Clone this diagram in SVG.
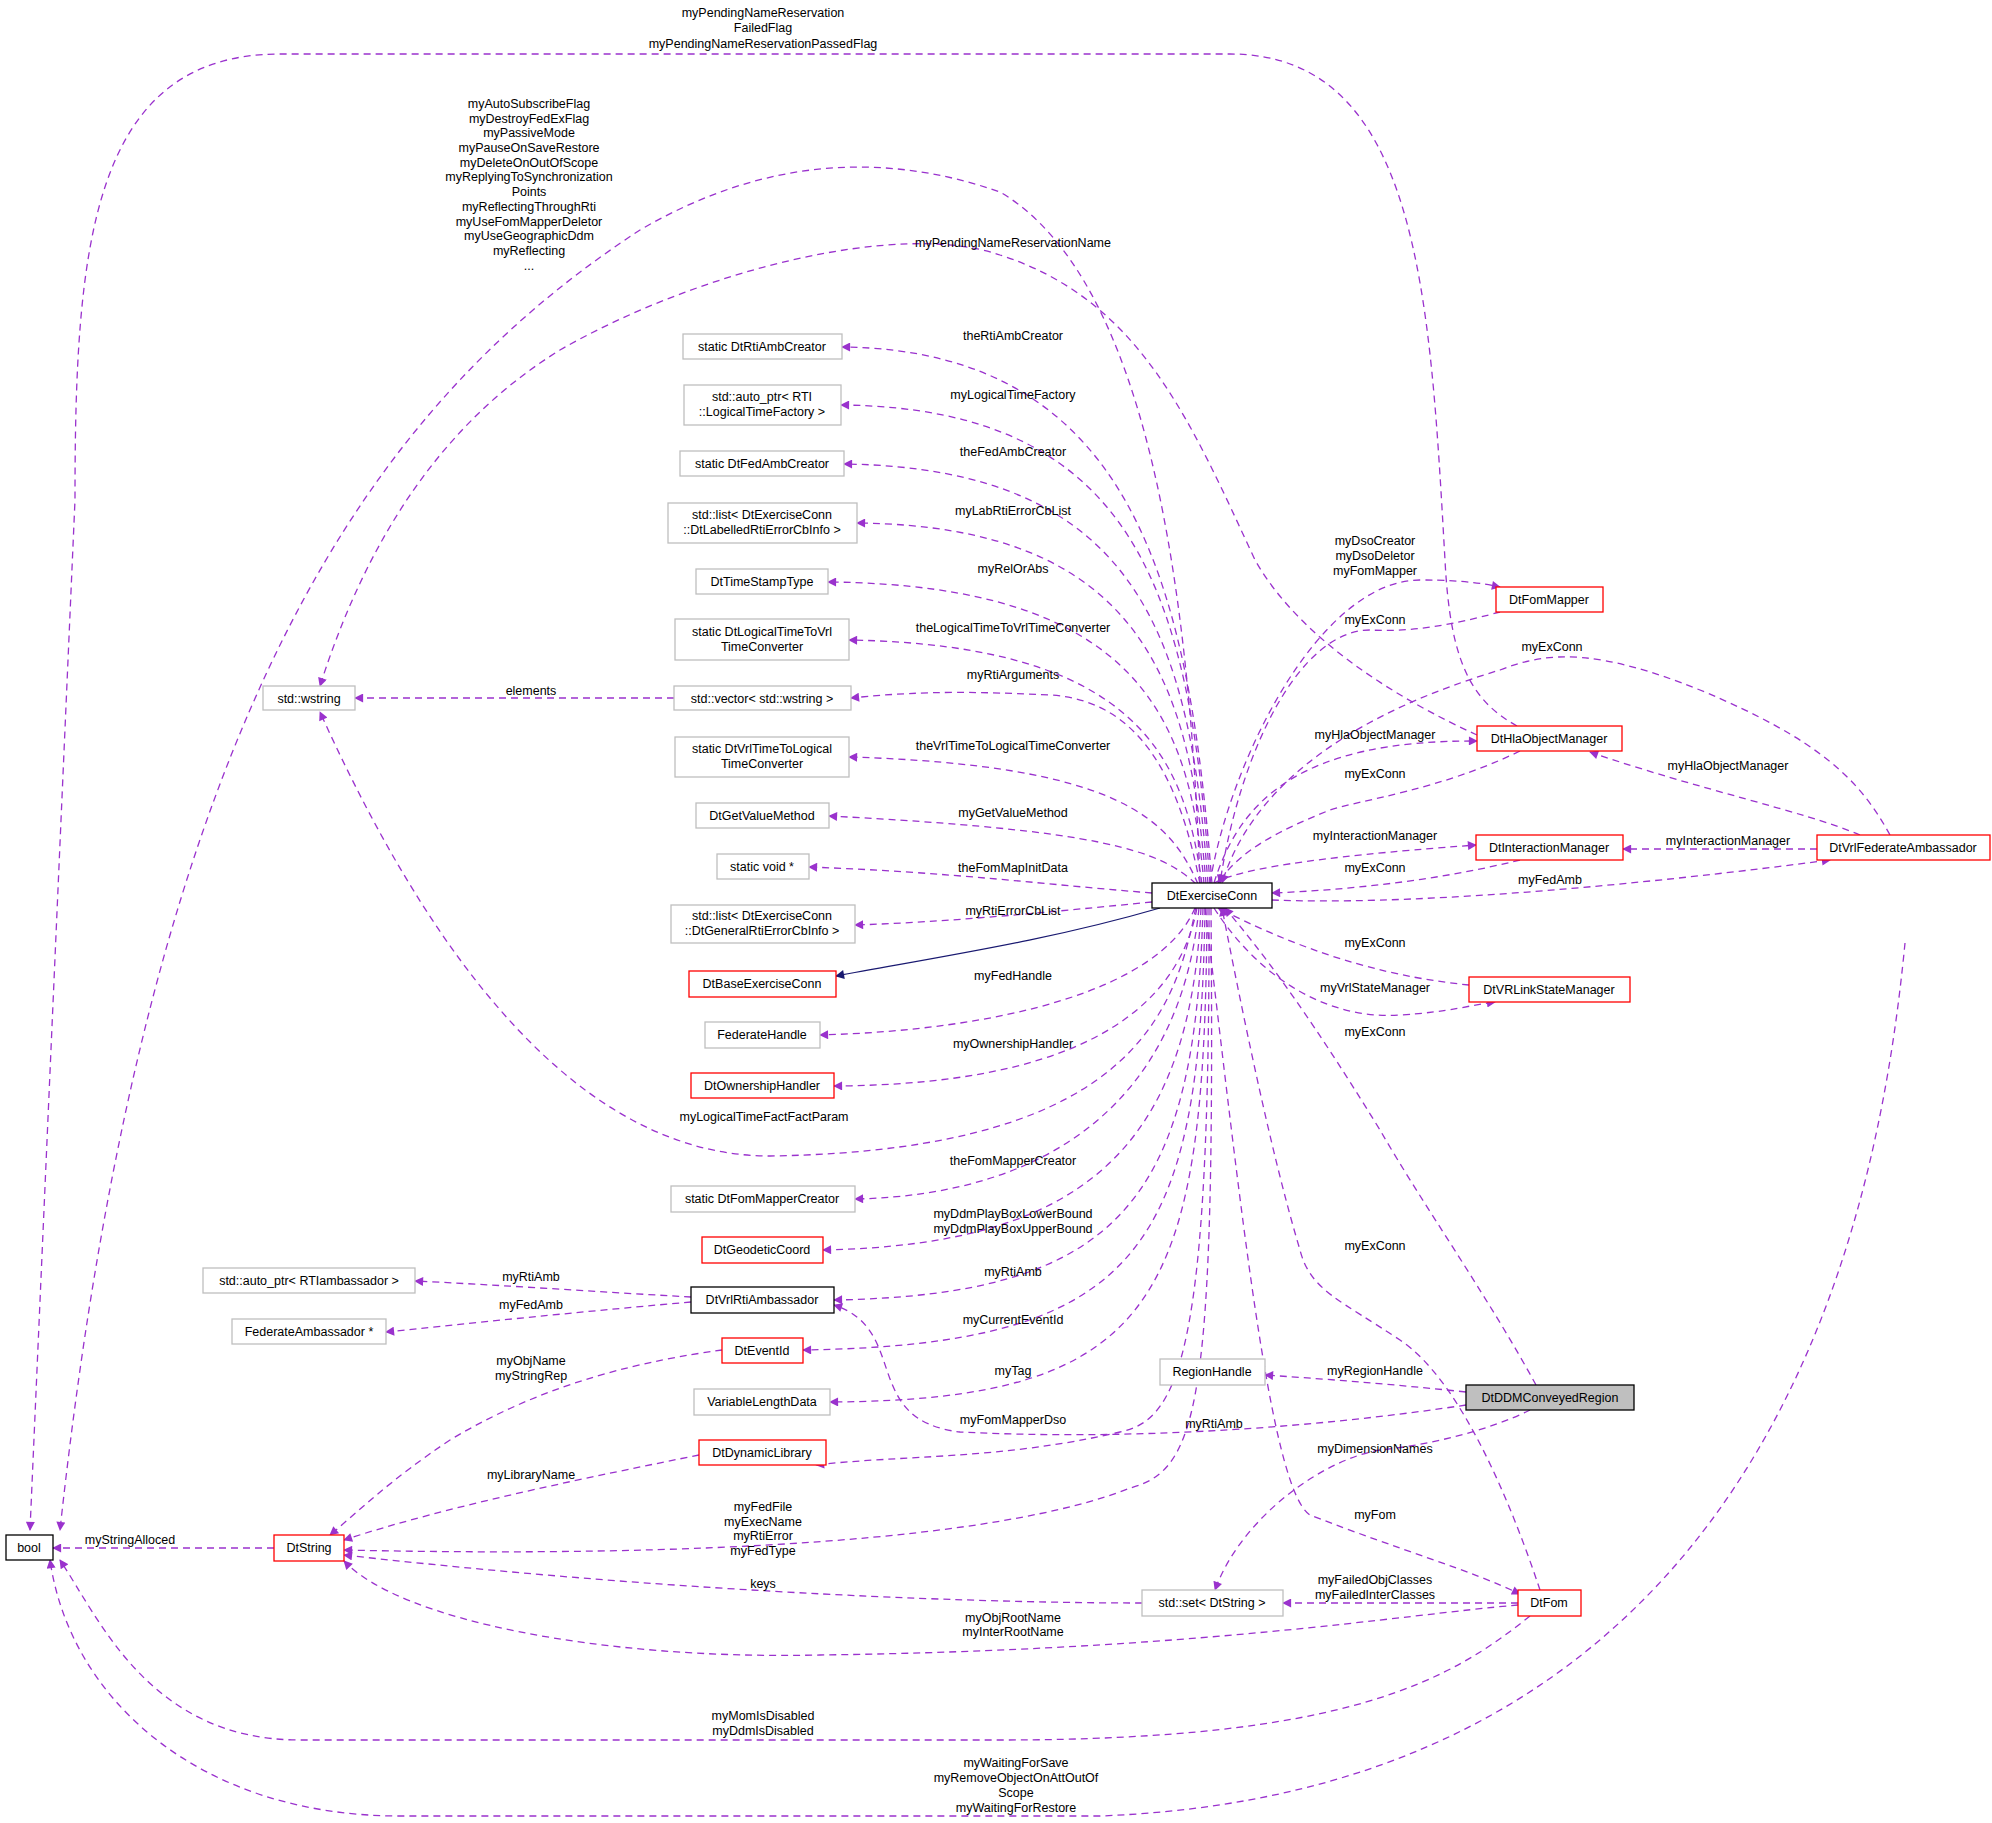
<svg xmlns="http://www.w3.org/2000/svg" width="1992" height="1823" viewBox="0 0 1992 1823">
<style>
text{font-family:"Liberation Sans",Arial,sans-serif;font-size:12.5px;fill:#000}
.n text{text-anchor:middle}
.lb{text-anchor:middle}
.g{fill:#fff;stroke:#bfbfbf;stroke-width:1.3}
.r{fill:#fff;stroke:#ff0000;stroke-width:1.3}
.k{fill:#fff;stroke:#000;stroke-width:1.3}
.e path{fill:none;stroke:#9a32cd;stroke-width:1.3;stroke-dasharray:7,5;marker-end:url(#a)}
.e path.s{stroke:#191970;stroke-dasharray:none;marker-end:url(#b)}
</style>
<defs>
<marker id="a" viewBox="0 0 10 10" refX="9" refY="5" markerWidth="11" markerHeight="9" markerUnits="userSpaceOnUse" orient="auto"><path d="M0,0L10,5L0,10z" fill="#9a32cd"/></marker>
<marker id="b" viewBox="0 0 10 10" refX="9" refY="5" markerWidth="11" markerHeight="9" markerUnits="userSpaceOnUse" orient="auto"><path d="M0,0L10,5L0,10z" fill="#191970"/></marker>
</defs>
<rect width="1992" height="1823" fill="#fff"/>
<g class="e" id="connectors">
<path d="M1517,726 C1470,700 1450,660 1445,560 C1430,300 1420,54 1230,54 L280,54 C90,54 75,250 75,500 L30,1530"/>
<path d="M1200,883 C1190,600 1150,280 1000,192 C880,150 760,160 640,230 C380,400 150,700 60,1530"/>
<path d="M1477,735 C1400,700 1300,640 1255,560 C1190,420 1140,300 1000,255 C900,220 700,270 560,350 C430,430 360,560 320,686"/>
<path d="M1200,884 C1180,1000 1150,1150 770,1156 C600,1156 450,1000 320,712"/>
<path d="M674,698 L355,698"/>
<path d="M1160,908 C1050,940 950,955 836,976" class="s"/>
<path d="M1212,884 C1190,600 1140,350 842,347"/>
<path d="M1210,884 C1190,600 1140,408 841,405"/>
<path d="M1208,884 C1190,640 1140,468 844,464"/>
<path d="M1206,884 C1190,680 1140,526 857,523"/>
<path d="M1204,884 C1190,720 1140,585 828,582"/>
<path d="M1202,884 C1185,760 1140,645 849,640"/>
<path d="M1200,884 C1180,780 1140,700 1050,695 C950,690 900,693 851,698"/>
<path d="M1198,884 C1170,820 1120,765 849,757"/>
<path d="M1196,884 C1160,850 1100,830 829,816"/>
<path d="M1152,893 C1050,885 950,872 809,867"/>
<path d="M1152,902 C1050,912 950,922 855,925"/>
<path d="M1195,908 C1160,990 1000,1030 820,1035"/>
<path d="M1197,908 C1170,1050 1000,1085 834,1086"/>
<path d="M1199,908 C1180,1100 1050,1195 855,1199"/>
<path d="M1201,908 C1190,1150 1080,1245 823,1250"/>
<path d="M1203,908 C1195,1200 1120,1295 834,1300"/>
<path d="M1205,908 C1200,1250 1140,1345 803,1350"/>
<path d="M1207,908 C1205,1300 1160,1400 830,1402"/>
<path d="M1209,908 C1210,1350 1180,1420 1120,1432 C1000,1460 900,1455 816,1465"/>
<path d="M1211,908 C1215,1400 1200,1470 1130,1488 C1000,1540 700,1558 344,1550"/>
<path d="M691,1297 C600,1292 500,1285 415,1281"/>
<path d="M691,1302 C600,1310 500,1320 386,1332"/>
<path d="M722,1350 C650,1360 550,1380 450,1440 C390,1480 360,1510 330,1535"/>
<path d="M699,1455 C600,1475 450,1505 344,1540"/>
<path d="M1142,1603 C1000,1603 700,1595 344,1555"/>
<path d="M1518,1605 C1400,1615 1200,1650 820,1655 C600,1660 400,1620 344,1561"/>
<path d="M274,1548 L53,1548"/>
<path d="M1530,1616 C1450,1680 1350,1740 1000,1740 L300,1740 C150,1740 100,1620 60,1560"/>
<path d="M1905,943 C1880,1200 1780,1790 1100,1816 L400,1816 C200,1816 70,1700 50,1560"/>
<path d="M1518,1603 L1283,1603"/>
<path d="M1205,908 C1240,1200 1270,1490 1310,1515 C1400,1550 1470,1570 1520,1594"/>
<path d="M1540,1590 C1510,1500 1460,1380 1400,1340 C1340,1300 1310,1290 1300,1250 C1270,1150 1240,1000 1222,908"/>
<path d="M1536,1385 C1490,1300 1420,1200 1380,1130 C1300,1000 1260,950 1225,908"/>
<path d="M1466,1392 C1400,1385 1340,1380 1265,1375"/>
<path d="M1466,1405 C1300,1430 1120,1440 960,1432 C860,1420 910,1330 834,1305"/>
<path d="M1530,1410 C1490,1430 1430,1445 1380,1450 C1320,1460 1240,1520 1215,1590"/>
<path d="M1210,883 C1230,760 1320,580 1420,580 C1470,580 1490,585 1500,587"/>
<path d="M1500,612 C1470,620 1420,633 1370,630 C1300,630 1240,750 1220,883"/>
<path d="M1214,883 C1240,800 1300,740 1477,741"/>
<path d="M1520,751 C1440,790 1360,800 1330,810 C1280,830 1240,850 1218,883"/>
<path d="M1214,883 C1240,870 1300,858 1476,845"/>
<path d="M1520,860 C1440,880 1350,890 1272,893"/>
<path d="M1272,900 C1400,905 1600,890 1830,860"/>
<path d="M1817,849 L1623,849"/>
<path d="M1860,835 C1800,810 1700,790 1590,752"/>
<path d="M1890,835 C1860,780 1820,740 1700,690 C1600,650 1550,650 1500,670 C1400,700 1260,760 1222,883"/>
<path d="M1469,985 C1400,978 1320,960 1218,908"/>
<path d="M1214,908 C1260,980 1330,1020 1400,1015 C1450,1012 1470,1005 1495,1002"/>
</g>
<g class="n">
<g id="n1"><rect class="g" x="683" y="334" width="159" height="25"/><text x="762" y="351">static DtRtiAmbCreator</text></g>
<g id="n2"><rect class="g" x="684" y="385" width="157" height="40"/><text x="762" y="401">std::auto_ptr&lt; RTI</text><text x="762" y="416">::LogicalTimeFactory &gt;</text></g>
<g id="n3"><rect class="g" x="680" y="451" width="164" height="25"/><text x="762" y="468">static DtFedAmbCreator</text></g>
<g id="n4"><rect class="g" x="668" y="503" width="189" height="40"/><text x="762" y="519">std::list&lt; DtExerciseConn</text><text x="762" y="534">::DtLabelledRtiErrorCbInfo &gt;</text></g>
<g id="n5"><rect class="g" x="696" y="569" width="132" height="25"/><text x="762" y="586">DtTimeStampType</text></g>
<g id="n6"><rect class="g" x="675" y="619" width="174" height="41"/><text x="762" y="636">static DtLogicalTimeToVrl</text><text x="762" y="651">TimeConverter</text></g>
<g id="n7"><rect class="g" x="263" y="686" width="92" height="24"/><text x="309" y="703">std::wstring</text></g>
<g id="n8"><rect class="g" x="674" y="686" width="177" height="24"/><text x="762" y="703">std::vector&lt; std::wstring &gt;</text></g>
<g id="n9"><rect class="g" x="675" y="737" width="174" height="40"/><text x="762" y="753">static DtVrlTimeToLogical</text><text x="762" y="768">TimeConverter</text></g>
<g id="n10"><rect class="g" x="696" y="803" width="133" height="25"/><text x="762" y="820">DtGetValueMethod</text></g>
<g id="n11"><rect class="g" x="717" y="854" width="92" height="25"/><text x="762" y="871">static void *</text></g>
<g id="n12"><rect class="g" x="671" y="905" width="184" height="38"/><text x="762" y="920">std::list&lt; DtExerciseConn</text><text x="762" y="935">::DtGeneralRtiErrorCbInfo &gt;</text></g>
<g id="n13"><rect class="r" x="689" y="971" width="147" height="26"/><text x="762" y="988">DtBaseExerciseConn</text></g>
<g id="n14"><rect class="g" x="705" y="1022" width="115" height="26"/><text x="762" y="1039">FederateHandle</text></g>
<g id="n15"><rect class="r" x="691" y="1073" width="143" height="25"/><text x="762" y="1090">DtOwnershipHandler</text></g>
<g id="n16"><rect class="g" x="671" y="1186" width="184" height="26"/><text x="762" y="1203">static DtFomMapperCreator</text></g>
<g id="n17"><rect class="r" x="702" y="1237" width="121" height="26"/><text x="762" y="1254">DtGeodeticCoord</text></g>
<g id="n18"><rect class="g" x="203" y="1268" width="212" height="25"/><text x="309" y="1285">std::auto_ptr&lt; RTIambassador &gt;</text></g>
<g id="n19"><rect class="k" x="691" y="1287" width="143" height="26"/><text x="762" y="1304">DtVrlRtiAmbassador</text></g>
<g id="n20"><rect class="g" x="232" y="1319" width="154" height="25"/><text x="309" y="1336">FederateAmbassador *</text></g>
<g id="n21"><rect class="r" x="722" y="1338" width="81" height="25"/><text x="762" y="1355">DtEventId</text></g>
<g id="n22"><rect class="g" x="694" y="1389" width="136" height="26"/><text x="762" y="1406">VariableLengthData</text></g>
<g id="n23"><rect class="r" x="699" y="1440" width="127" height="25"/><text x="762" y="1457">DtDynamicLibrary</text></g>
<g id="n24"><rect class="k" x="6" y="1535" width="47" height="25"/><text x="29" y="1552">bool</text></g>
<g id="n25"><rect class="r" x="274" y="1535" width="70" height="26"/><text x="309" y="1552">DtString</text></g>
<g id="n26"><rect class="k" x="1152" y="883" width="120" height="25"/><text x="1212" y="900">DtExerciseConn</text></g>
<g id="n27"><rect class="r" x="1496" y="587" width="107" height="25"/><text x="1549" y="604">DtFomMapper</text></g>
<g id="n28"><rect class="r" x="1477" y="726" width="145" height="25"/><text x="1549" y="743">DtHlaObjectManager</text></g>
<g id="n29"><rect class="r" x="1476" y="835" width="147" height="25"/><text x="1549" y="852">DtInteractionManager</text></g>
<g id="n30"><rect class="r" x="1817" y="835" width="173" height="25"/><text x="1903" y="852">DtVrlFederateAmbassador</text></g>
<g id="n31"><rect class="r" x="1469" y="977" width="161" height="25"/><text x="1549" y="994">DtVRLinkStateManager</text></g>
<g id="n32"><rect class="g" x="1160" y="1359" width="105" height="26"/><text x="1212" y="1376">RegionHandle</text></g>
<g id="n33"><rect x="1466" y="1385" width="168" height="25" fill="#bfbfbf" stroke="#000" stroke-width="1.3"/><text x="1550" y="1402">DtDDMConveyedRegion</text></g>
<g id="n34"><rect class="g" x="1142" y="1590" width="141" height="26"/><text x="1212" y="1607">std::set&lt; DtString &gt;</text></g>
<g id="n35"><rect class="r" x="1518" y="1590" width="63" height="26"/><text x="1549" y="1607">DtFom</text></g>
</g>
<g class="lb">
<text x="763" y="17">myPendingNameReservation</text><text x="763" y="32">FailedFlag</text><text x="763" y="48">myPendingNameReservationPassedFlag</text>
<text x="529" y="108">myAutoSubscribeFlag</text><text x="529" y="123">myDestroyFedExFlag</text><text x="529" y="137">myPassiveMode</text><text x="529" y="152">myPauseOnSaveRestore</text><text x="529" y="167">myDeleteOnOutOfScope</text><text x="529" y="181">myReplyingToSynchronization</text><text x="529" y="196">Points</text><text x="529" y="211">myReflectingThroughRti</text><text x="529" y="226">myUseFomMapperDeletor</text><text x="529" y="240">myUseGeographicDdm</text><text x="529" y="255">myReflecting</text><text x="529" y="270">...</text>
<text x="1013" y="247">myPendingNameReservationName</text>
<text x="1013" y="340">theRtiAmbCreator</text>
<text x="1013" y="399">myLogicalTimeFactory</text>
<text x="1013" y="456">theFedAmbCreator</text>
<text x="1013" y="515">myLabRtiErrorCbList</text>
<text x="1013" y="573">myRelOrAbs</text>
<text x="1013" y="632">theLogicalTimeToVrlTimeConverter</text>
<text x="1013" y="679">myRtiArguments</text>
<text x="531" y="695">elements</text>
<text x="1013" y="750">theVrlTimeToLogicalTimeConverter</text>
<text x="1013" y="817">myGetValueMethod</text>
<text x="1013" y="872">theFomMapInitData</text>
<text x="1013" y="915">myRtiErrorCbList</text>
<text x="1013" y="980">myFedHandle</text>
<text x="1013" y="1048">myOwnershipHandler</text>
<text x="764" y="1121">myLogicalTimeFactFactParam</text>
<text x="1013" y="1165">theFomMapperCreator</text>
<text x="1013" y="1218">myDdmPlayBoxLowerBound</text><text x="1013" y="1233">myDdmPlayBoxUpperBound</text>
<text x="1013" y="1276">myRtiAmb</text>
<text x="531" y="1281">myRtiAmb</text>
<text x="531" y="1309">myFedAmb</text>
<text x="1013" y="1324">myCurrentEventId</text>
<text x="531" y="1365">myObjName</text><text x="531" y="1380">myStringRep</text>
<text x="1013" y="1375">myTag</text>
<text x="1013" y="1424">myFomMapperDso</text>
<text x="531" y="1479">myLibraryName</text>
<text x="763" y="1511">myFedFile</text><text x="763" y="1526">myExecName</text><text x="763" y="1540">myRtiError</text><text x="763" y="1555">myFedType</text>
<text x="130" y="1544">myStringAlloced</text>
<text x="763" y="1588">keys</text>
<text x="1013" y="1622">myObjRootName</text><text x="1013" y="1636">myInterRootName</text>
<text x="763" y="1720">myMomIsDisabled</text><text x="763" y="1735">myDdmIsDisabled</text>
<text x="1016" y="1767">myWaitingForSave</text><text x="1016" y="1782">myRemoveObjectOnAttOutOf</text><text x="1016" y="1797">Scope</text><text x="1016" y="1812">myWaitingForRestore</text>
<text x="1375" y="545">myDsoCreator</text><text x="1375" y="560">myDsoDeletor</text><text x="1375" y="575">myFomMapper</text>
<text x="1375" y="624">myExConn</text>
<text x="1552" y="651">myExConn</text>
<text x="1375" y="739">myHlaObjectManager</text>
<text x="1375" y="778">myExConn</text>
<text x="1728" y="770">myHlaObjectManager</text>
<text x="1375" y="840">myInteractionManager</text>
<text x="1728" y="845">myInteractionManager</text>
<text x="1375" y="872">myExConn</text>
<text x="1550" y="884">myFedAmb</text>
<text x="1375" y="947">myExConn</text>
<text x="1375" y="992">myVrlStateManager</text>
<text x="1375" y="1036">myExConn</text>
<text x="1375" y="1250">myExConn</text>
<text x="1375" y="1375">myRegionHandle</text>
<text x="1214" y="1428">myRtiAmb</text>
<text x="1375" y="1453">myDimensionNames</text>
<text x="1375" y="1519">myFom</text>
<text x="1375" y="1584">myFailedObjClasses</text><text x="1375" y="1599">myFailedInterClasses</text>
</g>
</svg>
